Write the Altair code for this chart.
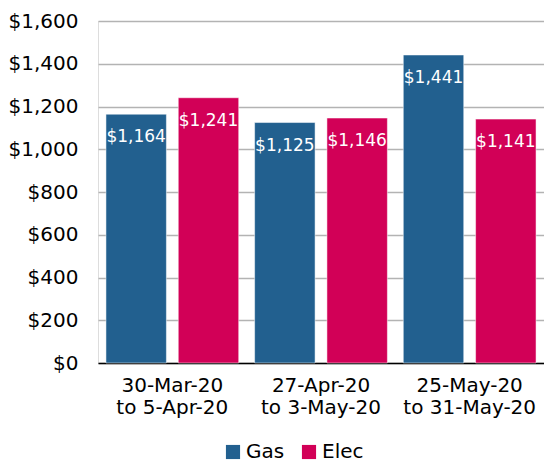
import altair as alt
import pandas as pd

periods = ["30-Mar-20\nto 5-Apr-20", "27-Apr-20\nto 3-May-20", "25-May-20\nto 31-May-20"]
gas = [1164, 1125, 1441]
elec = [1241, 1146, 1141]
series = ["Gas", "Elec"]
colors = ["#22608F", "#D20057"]

rows = []
for p, g, e in zip(periods, gas, elec):
    rows.append({"period": p, "type": "Gas", "value": g})
    rows.append({"period": p, "type": "Elec", "value": e})
df = pd.DataFrame(rows)
df["label"] = df["value"].map(lambda v: f"${v:,}")

FONT = "DejaVu Sans"

base = alt.Chart(df).encode(
    x=alt.X("period:N", sort=periods,
            scale=alt.Scale(paddingInner=0, paddingOuter=0),
            axis=alt.Axis(title=None, labelAngle=0, labelFontSize=20, labelFont=FONT,
                          labelColor="#000", labelExpr="split(datum.label, '\\n')",
                          labelLineHeight=22, labelPadding=12, ticks=False,
                          domainColor="#000", domainWidth=1.5)),
    xOffset=alt.XOffset("type:N", sort=series,
                        scale=alt.Scale(paddingInner=0.164, paddingOuter=0.11)),
)

bars = base.mark_bar(stroke="#ffffff", strokeWidth=0.5).encode(
    y=alt.Y("value:Q", scale=alt.Scale(domain=[0, 1600]),
            axis=alt.Axis(title=None, values=list(range(0, 1601, 200)),
                          labelExpr="'$' + format(datum.value, ',')",
                          labelFontSize=20, labelFont=FONT, labelColor="#000",
                          ticks=False, domain=False, labelPadding=20,
                          gridColor="#b3b3b3", gridWidth=1.5)),
    color=alt.Color("type:N", sort=series,
                    scale=alt.Scale(domain=series, range=colors),
                    legend=alt.Legend(title=None, orient="none", direction="horizontal",
                                      legendX=125, legendY=421,
                                      symbolType="square", symbolSize=200,
                                      symbolStrokeWidth=0,
                                      labelFontSize=20, labelFont=FONT, labelColor="#000",
                                      columnPadding=14, labelOffset=3)),
)

text = base.mark_text(color="white", fontSize=17, font=FONT, baseline="middle", dy=23).encode(
    y=alt.Y("value:Q"),
    text="label:N",
)

chart = (bars + text).properties(
    width=446, height=342,
    padding={"left": 0, "top": 3, "right": 0, "bottom": 0},
).configure_view(stroke=None).configure(background="white")

chart.save("out.html", embed_options={"renderer": "svg", "actions": False})
